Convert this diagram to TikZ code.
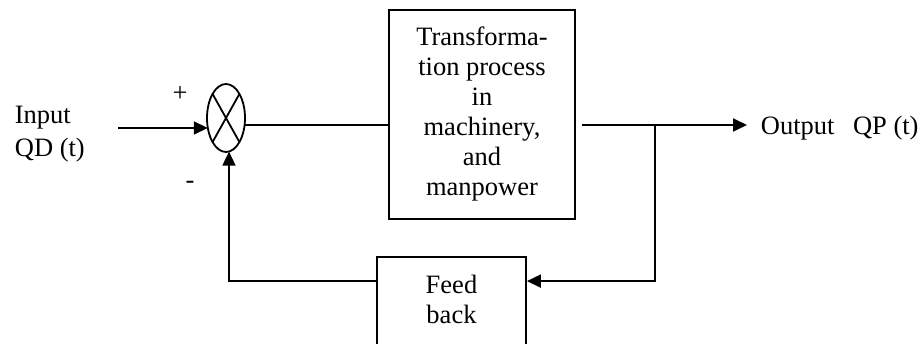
\documentclass[tikz,border=0pt]{standalone}
\usepackage{fontspec}
\setmainfont{Liberation Serif}
\usetikzlibrary{arrows.meta,shapes.geometric,calc}
\begin{document}
\begin{tikzpicture}[x=1pt,y=-1pt,
  line width=1.8pt,
  arr/.style={-{Triangle[length=14pt,width=13pt]}},
  blk/.style={draw, rectangle, inner sep=0pt},
  lbl/.style={font=\fontsize{26.5}{30}\selectfont, inner sep=0pt, align=center},
  sumnode/.style={draw, ellipse, minimum width=38pt, minimum height=68pt, inner sep=0pt}
]
\useasboundingbox (0,0) rectangle (922,344);
\clip (0,0) rectangle (922,344);

% blocks
\node[sumnode] (sum) at (226,118) {};
\node[blk, minimum width=186pt, minimum height=209pt] (tr) at (482,114.5) {};
\node[lbl] (trtxt) at (482,114) {Transforma-\\tion process\\in\\machinery,\\and\\manpower};
\node[blk, minimum width=149pt, minimum height=140pt] (fb) at (451.5,327) {};
\node[lbl] (fbtxt) at (451.5,299) {Feed\\back};

% cross in summing junction
\draw ($(sum.center)+(-13.4,-24)$) -- ($(sum.center)+(13.4,24)$);
\draw ($(sum.center)+(13.4,-24)$) -- ($(sum.center)+(-13.4,24)$);

% labels
\node[lbl, align=left, anchor=west] (inlbl) at (14,134) {Input\\[3pt]QD (t)};
\node[lbl, anchor=center] (plus) at (180,94) {+};
\node[lbl, anchor=base] (minus) at (190,189) {-};
\node[lbl, anchor=base west] (outlbl) at (760,135) {Output\hspace{0.7em}QP (t)};

% coordinates
\coordinate (inA) at (118,128);
\coordinate (sumIn) at ($(sum.center)+(-18.2,10)$);
\coordinate (sumOut) at ($(sum.center)+(18.6,7)$);
\coordinate (outStart) at ($(tr.east |- sumOut)+(6,0)$);
\coordinate (outEnd) at (747,125);
\coordinate (br) at (655,125);
\coordinate (fbIn) at ($(fb.north east)+(0,25)$);
\coordinate (fbOut) at ($(fb.north west)+(0,25)$);
\coordinate (sumBot) at ($(sum.center)+(3,33.6)$);

% connectors
\draw[arr] (inA) -- (sumIn);
\draw (sumOut) -- (sumOut -| tr.west);
\draw[arr] (outStart) -- (outEnd);
\draw[arr] (br) |- (fbIn);
\draw[arr] (fbOut) -| (sumBot);
\end{tikzpicture}
\end{document}
